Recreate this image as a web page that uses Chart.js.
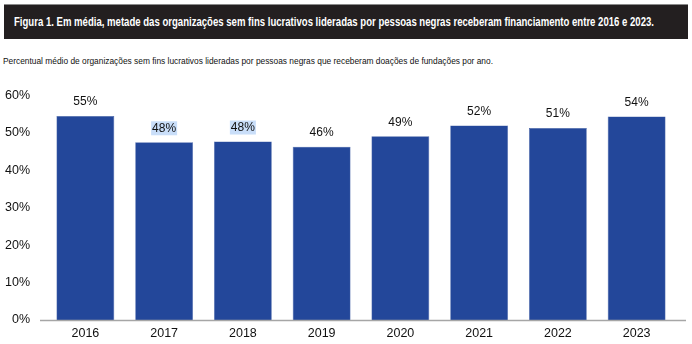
<!DOCTYPE html>
<html>
<head>
<meta charset="utf-8">
<script src="https://cdn.jsdelivr.net/npm/chart.js@4"></script>
<style>
  html, body { margin: 0; padding: 0; background: #fff; }
  body { width: 692px; height: 344px; position: relative; overflow: hidden; font-family: "Liberation Sans", Arial, sans-serif; }
  #header {
    position: absolute; left: 4px; top: 4px; width: 684px; height: 35px;
    background: #231f20; border-top: 1px solid #8a8a8a; box-sizing: border-box;
  }
  #title {
    position: absolute; left: 10px; top: 10px; white-space: nowrap;
    color: #fff; font-family: "Liberation Sans Narrow", "Liberation Sans", Arial, sans-serif;
    font-weight: bold; font-size: 12.5px; transform-origin: 0 0;
  }
  #subtitle {
    position: absolute; left: 3px; top: 57px; white-space: nowrap;
    color: #111; font-size: 8.2px; transform-origin: 0 0;
  }
  #wrap { position: absolute; left: 0; top: 72px; width: 692px; height: 272px; }
</style>
</head>
<body>
<div id="header"><div id="title">Figura 1. Em média, metade das organizações sem fins lucrativos lideradas por pessoas negras receberam financiamento entre 2016 e 2023.</div></div>
<div id="subtitle">Percentual médio de organizações sem fins lucrativos lideradas por pessoas negras que receberam doações de fundações por ano.</div>
<div id="wrap"><canvas id="chart" width="692" height="272"></canvas></div>
<script>
const years = ['2016', '2017', '2018', '2019', '2020', '2021', '2022', '2023'];
// bar heights; the printed labels are these rounded
const shares = [54.5, 47.5, 47.7, 46.3, 49.1, 52.0, 51.3, 54.4];
const yTicks = [0, 10, 20, 30, 40, 50, 60];
const highlighted = ['2017', '2018'];

// stretch header texts to the widths seen in the figure
function fitWidth(id, target) {
    const el = document.getElementById(id);
    const w = el.getBoundingClientRect().width;
    el.style.transform = 'scaleX(' + (target / w) + ')';
}
fitWidth('title', 640);
fitWidth('subtitle', 490);

const valueLabels = {
    id: 'valueLabels',
    afterDatasetsDraw(chart) {
        const ctx = chart.ctx;
        const meta = chart.getDatasetMeta(0);
        ctx.save();
        ctx.font = '12px "Liberation Sans", Arial, sans-serif';
        ctx.textAlign = 'center';
        ctx.textBaseline = 'middle';
        meta.data.forEach((bar, i) => {
            const text = Math.round(shares[i]) + '%';
            const y = bar.y - 14;
            if (highlighted.includes(years[i])) {
                const w = ctx.measureText(text).width + 2;
                ctx.fillStyle = '#c9def9';
                ctx.fillRect(bar.x - w / 2, y - 7, w, 14);
            }
            ctx.fillStyle = '#111';
            ctx.fillText(text, bar.x, y);
        });
        ctx.restore();
    }
};

const baseLine = {
    id: 'baseLine',
    afterDatasetsDraw(chart) {
        const ctx = chart.ctx;
        const y = chart.scales.y.getPixelForValue(0) + 0.5;
        ctx.save();
        ctx.strokeStyle = '#a6a6a6';
        ctx.lineWidth = 1.5;
        ctx.beginPath();
        ctx.moveTo(40, y);
        ctx.lineTo(686, y);
        ctx.stroke();
        ctx.restore();
    }
};

new Chart(document.getElementById('chart'), {
    type: 'bar',
    data: {
        labels: years,
        datasets: [{
            data: shares,
            backgroundColor: '#23479a',
            borderColor: '#4a66a8',
            borderWidth: 0.6,
            categoryPercentage: 1,
            barPercentage: 0.735
        }]
    },
    options: {
        responsive: false,
        animation: false,
        layout: { padding: { top: 10, right: 16, left: 0, bottom: 0 } },
        plugins: { legend: { display: false }, tooltip: { enabled: false } },
        scales: {
            x: {
                grid: { display: false, drawTicks: false },
                border: { display: false },
                ticks: {
                    color: '#111',
                    font: { family: '"Liberation Sans", Arial, sans-serif', size: 12.5 },
                    padding: 6
                },
                afterFit: (s) => { s.height = 24; }
            },
            y: {
                min: 0,
                max: 60,
                afterBuildTicks: (s) => { s.ticks = yTicks.map(v => ({ value: v })); },
                grid: { display: false, drawTicks: false },
                border: { display: false },
                ticks: {
                    color: '#111',
                    font: { family: '"Liberation Sans", Arial, sans-serif', size: 12.5 },
                    padding: 16,
                    callback: (v) => v + '%'
                },
                afterFit: (s) => { s.width = 46; }
            }
        }
    },
    plugins: [valueLabels, baseLine]
});
</script>
</body>
</html>
